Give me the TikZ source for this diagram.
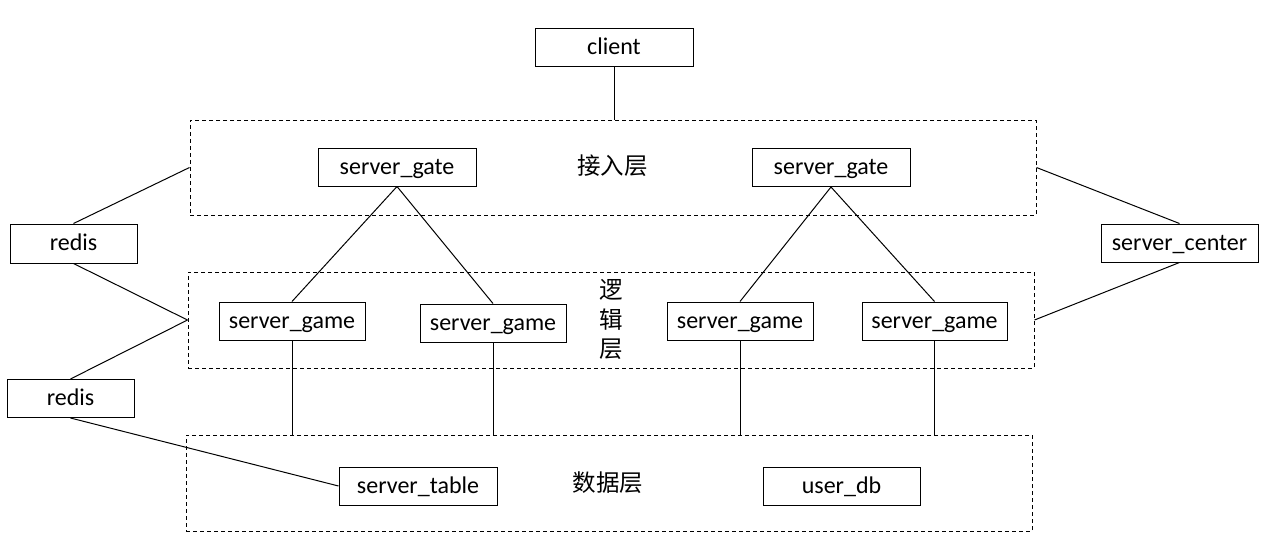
\documentclass[tikz,border=0pt]{standalone}
\usepackage{fontspec}
\setmainfont{Carlito}
\newfontfamily\cjk{Noto Sans CJK SC}
\begin{document}
\begin{tikzpicture}[x=1pt,y=-1pt,
  box/.style={draw=black,line width=1pt,fill=white,minimum height=38pt,minimum width=158pt,inner sep=0pt,text height=16pt,text depth=1.5pt,font=\fontsize{24}{28}\selectfont},
  layer/.style={draw=black,line width=1pt,dash pattern=on 4pt off 3pt,minimum width=846pt,minimum height=96pt,inner sep=0pt},
  conn/.style={line width=1pt,draw=black},
  cjklabel/.style={font=\cjk\fontsize{23.5}{29.5}\selectfont,inner sep=0pt}]
\useasboundingbox[fill=white] (0,0) rectangle (1277,554);
% layers
\node[layer,minimum height=95pt] (L1) at (613,167.5) {};
\node[layer] (L2) at (611,320) {};
\node[layer] (L3) at (609,483) {};
\node[cjklabel] (t1) at (612.5,166) {接入层};
\node[cjklabel,align=center] (t2) at (611,319.5) {逻\\辑\\层};
\node[cjklabel] (t3) at (608,482.5) {数据层};
% nodes
\node[box] (client) at (614,47) {client};
\node[box] (gate1) at (397,167) {server\_gate};
\node[box] (gate2) at (831,167.5) {server\_gate};
\node[box,minimum width=127pt,minimum height=39pt] (redis1) at (73.5,243.5) {redis};
\node[box,minimum width=127pt] (redis2) at (70.5,398.5) {redis};
\node[box,minimum width=157pt] (center) at (1179.5,243) {server\_center};
\node[box,minimum width=146pt] (g1) at (292,321) {server\_game};
\node[box,minimum width=146pt] (g2) at (493,323) {server\_game};
\node[box,minimum width=146pt] (g3) at (740,321) {server\_game};
\node[box,minimum width=145pt] (g4) at (934.5,321) {server\_game};
\node[box] (table) at (418,486) {server\_table};
\node[box,minimum width=157pt] (userdb) at (841.5,486) {user\_db};
% connectors
\draw[conn] (client.south) -- (client.south |- L1.north);
\draw[conn] (redis1.north) -- (L1.west);
\draw[conn] (redis1.south) -- (L2.west);
\draw[conn] (redis2.north) -- (L2.west);
\draw[conn] (redis2.south) -- (table.west);
\draw[conn] (center.north) -- (L1.east);
\draw[conn] (center.south) -- (L2.east);
\draw[conn] (gate1.south) -- (g1.north);
\draw[conn] (gate1.south) -- (g2.north);
\draw[conn] (gate2.south) -- (g3.north);
\draw[conn] (gate2.south) -- (g4.north);
\draw[conn] (g1.south) -- (g1.south |- L3.north);
\draw[conn] (g2.south) -- (g2.south |- L3.north);
\draw[conn] (g3.south) -- (g3.south |- L3.north);
\draw[conn] (g4.south) -- (g4.south |- L3.north);
\end{tikzpicture}
\end{document}
